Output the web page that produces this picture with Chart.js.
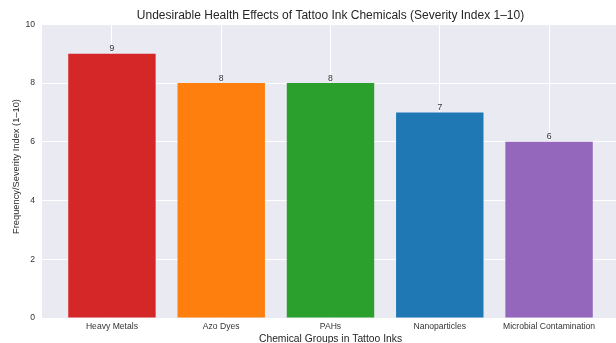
<!DOCTYPE html>
<html>
<head>
<meta charset="utf-8">
<script src="https://cdn.jsdelivr.net/npm/chart.js@4.4.1/dist/chart.umd.min.js"></script>
<style>
  html, body { margin: 0; padding: 0; background: #ffffff; overflow: hidden; }
  #wrap { position: absolute; left: 0; top: 0; width: 619px; height: 343px; }
</style>
</head>
<body>
<div id="wrap"><canvas id="chart"></canvas></div>
<script>
// Chemical groups and their severity scores
const categories = ['Heavy Metals', 'Azo Dyes', 'PAHs', 'Nanoparticles', 'Microbial Contamination'];
const severity = [9, 8, 8, 7, 6];
const barColors = ['#d62728', '#ff7f0e', '#2ca02c', '#1f77b4', '#9467bd'];
const yTicks = [0, 2, 4, 6, 8, 10];
const yAxisTitle = 'Frequency/Severity Index (1–10)';

const FONT = "'Liberation Sans', Arial, Helvetica, sans-serif";
const TEXT = '#333333';

// Shaded plot background
const plotBackground = {
  id: 'plotBackground',
  beforeDraw(chart) {
    const { ctx, chartArea: a } = chart;
    ctx.save();
    ctx.fillStyle = '#eaeaf2';
    ctx.fillRect(a.left, a.top, a.right - a.left, a.bottom - a.top);
    ctx.restore();
  }
};

// Value printed above each bar, plus the rotated y-axis title
const barValues = {
  id: 'barValues',
  afterDatasetsDraw(chart) {
    const { ctx } = chart;
    const meta = chart.getDatasetMeta(0);
    ctx.save();
    ctx.font = '8.6px ' + FONT;
    ctx.fillStyle = TEXT;
    ctx.textAlign = 'center';
    ctx.textBaseline = 'alphabetic';
    meta.data.forEach((bar, i) => {
      ctx.fillText(String(severity[i]), bar.x, bar.y - 2.5);
    });
    ctx.restore();

    ctx.save();
    ctx.font = '9.3px ' + FONT;
    ctx.fillStyle = '#262626';
    ctx.textAlign = 'center';
    ctx.textBaseline = 'middle';
    ctx.translate(16.7, 166.5);
    ctx.rotate(-Math.PI / 2);
    ctx.fillText(yAxisTitle, 0, 0);
    ctx.restore();
  }
};

new Chart(document.getElementById('chart'), {
  type: 'bar',
  data: {
    datasets: [{
      data: severity.map((v, i) => ({ x: i, y: v })),
      backgroundColor: barColors,
      borderWidth: 0,
      categoryPercentage: 1,
      barPercentage: 0.8
    }]
  },
  options: {
    responsive: true,
    maintainAspectRatio: false,
    animation: false,
    layout: { padding: 0 },
    plugins: {
      legend: { display: false },
      tooltip: { enabled: false },
      title: {
        display: true,
        fullSize: false,
        text: 'Undesirable Health Effects of Tattoo Ink Chemicals (Severity Index 1–10)',
        color: '#262626',
        font: { family: FONT, size: 12, weight: 'normal' },
        padding: { top: 8.5, bottom: 1.4 }
      }
    },
    scales: {
      x: {
        type: 'linear',
        min: -0.64,
        max: 4.64,
        offset: false,
        grid: { offset: false, color: '#ffffff', lineWidth: 1, drawTicks: false },
        border: { display: false },
        afterBuildTicks(scale) {
          scale.ticks = categories.map((_, i) => ({ value: i }));
        },
        afterFit(scale) { scale.height = 25; },
        ticks: {
          autoSkip: false,
          maxRotation: 0,
          padding: 3.8,
          color: TEXT,
          font: { family: FONT, size: 8.6 },
          callback: (v) => categories[v]
        },
        title: {
          display: true,
          text: 'Chemical Groups in Tattoo Inks',
          color: '#262626',
          font: { family: FONT, size: 10.3 },
          padding: { top: 0, bottom: -2.2 }
        }
      },
      y: {
        min: 0,
        max: 10,
        grid: { color: '#ffffff', lineWidth: 1, drawTicks: false },
        border: { display: false },
        afterBuildTicks(scale) {
          scale.ticks = yTicks.map(v => ({ value: v }));
        },
        afterFit(scale) { scale.width = 42; },
        ticks: {
          padding: 7,
          color: TEXT,
          font: { family: FONT, size: 8.6 }
        }
      }
    }
  },
  plugins: [plotBackground, barValues]
});
</script>
</body>
</html>
